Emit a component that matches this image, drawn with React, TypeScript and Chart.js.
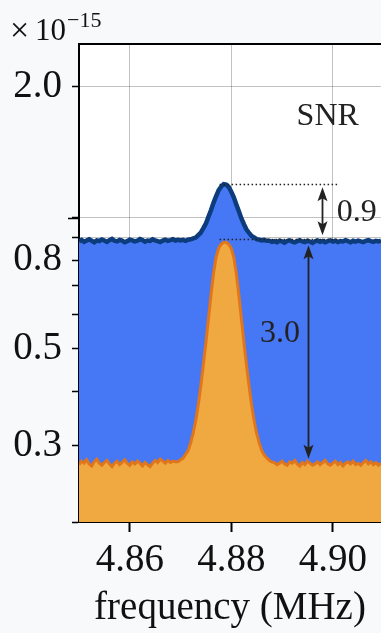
import React, { useEffect, useRef } from "react";
import { Chart, registerables } from "chart.js";

Chart.register(...registerables);

// frequency grid (MHz)
const FREQ_START = 4.85;
const FREQ_STEP = 0.0005;

// power spectra (×1e-15)
const BLUE_TRACE = [
  0.884, 0.890, 0.881, 0.887, 0.893, 0.886, 0.879, 0.888, 0.885, 0.892,
  0.887, 0.881, 0.889, 0.895, 0.886, 0.883, 0.890, 0.887, 0.879, 0.884,
  0.891, 0.888, 0.883, 0.886, 0.894, 0.889, 0.882, 0.887, 0.885, 0.893,
  0.888, 0.884, 0.880, 0.887, 0.891, 0.886, 0.889, 0.893, 0.887, 0.890,
  0.887, 0.890, 0.886, 0.891, 0.893, 0.897, 0.901, 0.913, 0.925, 0.947,
  0.971, 1.006, 1.041, 1.083, 1.121, 1.157, 1.180, 1.195, 1.192, 1.178,
  1.149, 1.115, 1.073, 1.035, 0.997, 0.967, 0.940, 0.924, 0.909, 0.902,
  0.894, 0.891, 0.888, 0.890, 0.886,
  0.886, 0.881, 0.884, 0.879, 0.886, 0.883, 0.877, 0.885, 0.888, 0.882,
  0.879, 0.884, 0.889, 0.883, 0.880, 0.886, 0.882, 0.876, 0.883, 0.887,
  0.881, 0.885, 0.879, 0.884, 0.888, 0.882, 0.886, 0.880, 0.885, 0.883,
  0.889, 0.884, 0.879, 0.886, 0.882, 0.887, 0.883, 0.880, 0.885, 0.889,
  0.884, 0.881, 0.886, 0.883, 0.887,
];

const ORANGE_TRACE = [
  0.271, 0.276, 0.273, 0.278, 0.272, 0.269, 0.275, 0.279, 0.273, 0.270,
  0.274, 0.277, 0.272, 0.268, 0.273, 0.276, 0.271, 0.274, 0.278, 0.273,
  0.270, 0.275, 0.272, 0.276, 0.273, 0.269, 0.274, 0.271, 0.268, 0.273,
  0.277, 0.274, 0.279, 0.276, 0.273, 0.277, 0.274, 0.276, 0.275,
  0.275, 0.278, 0.280, 0.286, 0.292, 0.304, 0.320, 0.342, 0.372, 0.411,
  0.460, 0.516, 0.586, 0.665, 0.745, 0.812, 0.851, 0.870, 0.879,
  0.879, 0.870, 0.851, 0.812, 0.745, 0.665, 0.586, 0.516, 0.460, 0.411,
  0.372, 0.342, 0.320, 0.304, 0.292, 0.285, 0.281, 0.277, 0.275,
  0.274, 0.271, 0.273, 0.276, 0.272, 0.270, 0.275, 0.273, 0.277, 0.272,
  0.269, 0.274, 0.271, 0.276, 0.273, 0.270, 0.272, 0.275, 0.271, 0.274,
  0.277, 0.272, 0.270, 0.273, 0.276, 0.271, 0.274, 0.269, 0.273, 0.275,
  0.272, 0.276, 0.271, 0.273, 0.270, 0.274, 0.277, 0.272, 0.275, 0.271,
  0.274, 0.270, 0.273,
];

const X_TICKS = [4.86, 4.88, 4.9];
const Y_TICKS = [0.2, 0.3, 0.4, 0.5, 0.6, 0.7, 0.8, 0.9, 1.0, 2.0];
const Y_LABELED = [0.3, 0.5, 0.8, 2.0];
const Y_MAJOR = 1.0;
const X_MIN = 4.85;
const X_MAX = 4.9095;
const Y_MIN = 0.2;
const Y_MAX = 2.51;

// SNR annotation levels (data units)
const LEVEL_PEAK = 1.195;
const LEVEL_NOISE = 0.893;
const LEVEL_FLOOR = 0.275;
const DOT_X = [4.8777, 4.901];
const ARROW_SMALL_X = 4.8979;
const ARROW_BIG_X = 4.8951;
const LABEL_SMALL = { text: "0.9", x: 4.9008, y: 1.03 };
const LABEL_BIG = { text: "3.0", x: 4.8896, y: 0.543 };
const LABEL_SNR = { text: "SNR", x: 4.899, y: 1.706 };

const SERIF = "'Liberation Serif', 'DejaVu Serif', 'Times New Roman', serif";
const OUTER_BG = "#f8f9fb";
const BLUE_FILL = "#4677f5";
const BLUE_LINE = "#0d3c7c";
const ORANGE_FILL = "#f0a840";
const ORANGE_LINE = "#e0761c";
const INK = "#222";

function drawHead(ctx: CanvasRenderingContext2D, x: number, tipY: number, dir: number) {
  const len = 14;
  const hw = 5;
  ctx.beginPath();
  ctx.moveTo(x, tipY);
  ctx.lineTo(x - hw, tipY + dir * len);
  ctx.lineTo(x, tipY + dir * (len - 3));
  ctx.lineTo(x + hw, tipY + dir * len);
  ctx.closePath();
  ctx.fill();
}

function drawDoubleArrow(ctx: CanvasRenderingContext2D, x: number, yTop: number, yBot: number) {
  ctx.beginPath();
  ctx.moveTo(x, yTop + 6);
  ctx.lineTo(x, yBot - 6);
  ctx.stroke();
  drawHead(ctx, x, yTop, 1);
  drawHead(ctx, x, yBot, -1);
}

const decorPlugin = {
  id: "decor",
  beforeDraw(chart: any) {
    const { ctx, chartArea: ca, width, height } = chart;
    ctx.save();
    ctx.fillStyle = OUTER_BG;
    ctx.fillRect(0, 0, width, height);
    ctx.fillStyle = "#ffffff";
    ctx.fillRect(ca.left, ca.top, ca.right - ca.left, ca.bottom - ca.top);
    ctx.restore();
  },
  afterDraw(chart: any) {
    const { ctx, chartArea: ca } = chart;
    const xs = chart.scales.x;
    const ys = chart.scales.y;
    ctx.save();

    // top spine
    ctx.strokeStyle = "#000";
    ctx.lineWidth = 2;
    ctx.beginPath();
    ctx.moveTo(ca.left - 1, ca.top);
    ctx.lineTo(ca.right, ca.top);
    ctx.stroke();

    // longer major tick at 1.0
    const my = Math.round(ys.getPixelForValue(Y_MAJOR)) + 0.5;
    ctx.lineWidth = 1.5;
    ctx.beginPath();
    ctx.moveTo(ca.left - 11, my);
    ctx.lineTo(ca.left, my);
    ctx.stroke();

    // dotted reference lines
    ctx.strokeStyle = INK;
    ctx.lineWidth = 1.5;
    ctx.setLineDash([1.5, 2.5]);
    for (const lvl of [LEVEL_PEAK, LEVEL_NOISE]) {
      const py = Math.round(ys.getPixelForValue(lvl)) + 0.5;
      ctx.beginPath();
      ctx.moveTo(xs.getPixelForValue(DOT_X[0]), py);
      ctx.lineTo(xs.getPixelForValue(DOT_X[1]), py);
      ctx.stroke();
    }
    ctx.setLineDash([]);

    // arrows
    ctx.strokeStyle = INK;
    ctx.fillStyle = INK;
    ctx.lineWidth = 1.8;
    const ax1 = Math.round(xs.getPixelForValue(ARROW_SMALL_X)) + 0.5;
    drawDoubleArrow(ctx, ax1, ys.getPixelForValue(LEVEL_PEAK) + 3, ys.getPixelForValue(LEVEL_NOISE) - 4);
    const ax2 = Math.round(xs.getPixelForValue(ARROW_BIG_X)) + 0.5;
    drawDoubleArrow(ctx, ax2, ys.getPixelForValue(LEVEL_NOISE) + 6, ys.getPixelForValue(LEVEL_FLOOR) - 3);

    // labels
    ctx.font = `32px ${SERIF}`;
    ctx.fillStyle = INK;
    ctx.textBaseline = "middle";
    ctx.textAlign = "left";
    ctx.fillText(LABEL_SMALL.text, xs.getPixelForValue(LABEL_SMALL.x), ys.getPixelForValue(LABEL_SMALL.y));
    ctx.textAlign = "center";
    ctx.fillText(LABEL_BIG.text, xs.getPixelForValue(LABEL_BIG.x), ys.getPixelForValue(LABEL_BIG.y));
    ctx.fillText(LABEL_SNR.text, xs.getPixelForValue(LABEL_SNR.x), ys.getPixelForValue(LABEL_SNR.y));

    // axis multiplier
    ctx.fillStyle = "#111";
    ctx.textAlign = "left";
    ctx.textBaseline = "alphabetic";
    ctx.font = `34px ${SERIF}`;
    ctx.fillText("×", 10, 41);
    ctx.font = `31px ${SERIF}`;
    ctx.fillText("10", 35, 40);
    ctx.font = `22px ${SERIF}`;
    ctx.fillText("−15", 67, 27);

    ctx.restore();
  },
};

export default function App() {
  const canvasRef = useRef<HTMLCanvasElement | null>(null);

  useEffect(() => {
    const canvas = canvasRef.current;
    if (!canvas) return;
    const blue = BLUE_TRACE.map((v, i) => ({ x: FREQ_START + i * FREQ_STEP, y: v }));
    const orange = ORANGE_TRACE.map((v, i) => ({ x: FREQ_START + i * FREQ_STEP, y: v }));

    const chart = new Chart(canvas, {
      type: "line",
      data: {
        datasets: [
          {
            label: "signal",
            data: orange,
            borderColor: ORANGE_LINE,
            backgroundColor: ORANGE_FILL,
            borderWidth: 3,
            fill: "start",
            pointRadius: 0,
            tension: 0,
            order: 1,
          },
          {
            label: "noise",
            data: blue,
            borderColor: BLUE_LINE,
            backgroundColor: BLUE_FILL,
            borderWidth: 4.5,
            fill: "start",
            pointRadius: 0,
            tension: 0,
            order: 2,
          },
        ],
      },
      options: {
        animation: false,
        responsive: false,
        events: [],
        layout: { padding: { top: 44, right: 0, left: 0, bottom: 0 } },
        plugins: {
          legend: { display: false },
          tooltip: { enabled: false },
        },
        scales: {
          x: {
            type: "linear",
            min: X_MIN,
            max: X_MAX,
            z: 1,
            afterBuildTicks: (scale: any) => {
              scale.ticks = X_TICKS.map((v) => ({ value: v }));
            },
            afterFit: (scale: any) => {
              scale.height = 111;
            },
            ticks: {
              callback: (v: any) => Number(v).toFixed(2),
              font: { family: SERIF, size: 39 },
              color: "#111",
              padding: 5,
              maxRotation: 0,
              autoSkip: false,
            },
            grid: {
              color: "rgba(0,0,0,0.24)",
              lineWidth: 1,
              tickColor: "#000",
              tickLength: 10,
              tickWidth: 2,
            },
            border: { display: true, color: "#000", width: 2 },
            title: {
              display: true,
              text: "frequency (MHz)",
              font: { family: SERIF, size: 39 },
              color: "#111",
              padding: { top: 0, bottom: 1 },
            },
          },
          y: {
            type: "logarithmic",
            min: Y_MIN,
            max: Y_MAX,
            z: 1,
            afterBuildTicks: (scale: any) => {
              scale.ticks = Y_TICKS.map((v) => ({ value: v }));
            },
            afterFit: (scale: any) => {
              scale.width = 79;
            },
            ticks: {
              callback: (v: any) => (Y_LABELED.includes(Number(v)) ? Number(v).toFixed(1) : ""),
              font: { family: SERIF, size: 39 },
              color: "#111",
              padding: 10,
              autoSkip: false,
            },
            grid: {
              color: "rgba(0,0,0,0.24)",
              lineWidth: 1,
              tickColor: "#000",
              tickLength: 7,
              tickWidth: 1.5,
            },
            border: { display: true, color: "#000", width: 2 },
          },
        },
      },
      plugins: [decorPlugin],
    } as any);

    return () => chart.destroy();
  }, []);

  return (
    <div
      style={{
        position: "absolute",
        left: 0,
        top: 0,
        width: 381,
        height: 633,
        overflow: "hidden",
        background: OUTER_BG,
      }}
    >
      <canvas ref={canvasRef} width={381} height={633} style={{ display: "block", width: 381, height: 633 }} />
    </div>
  );
}
